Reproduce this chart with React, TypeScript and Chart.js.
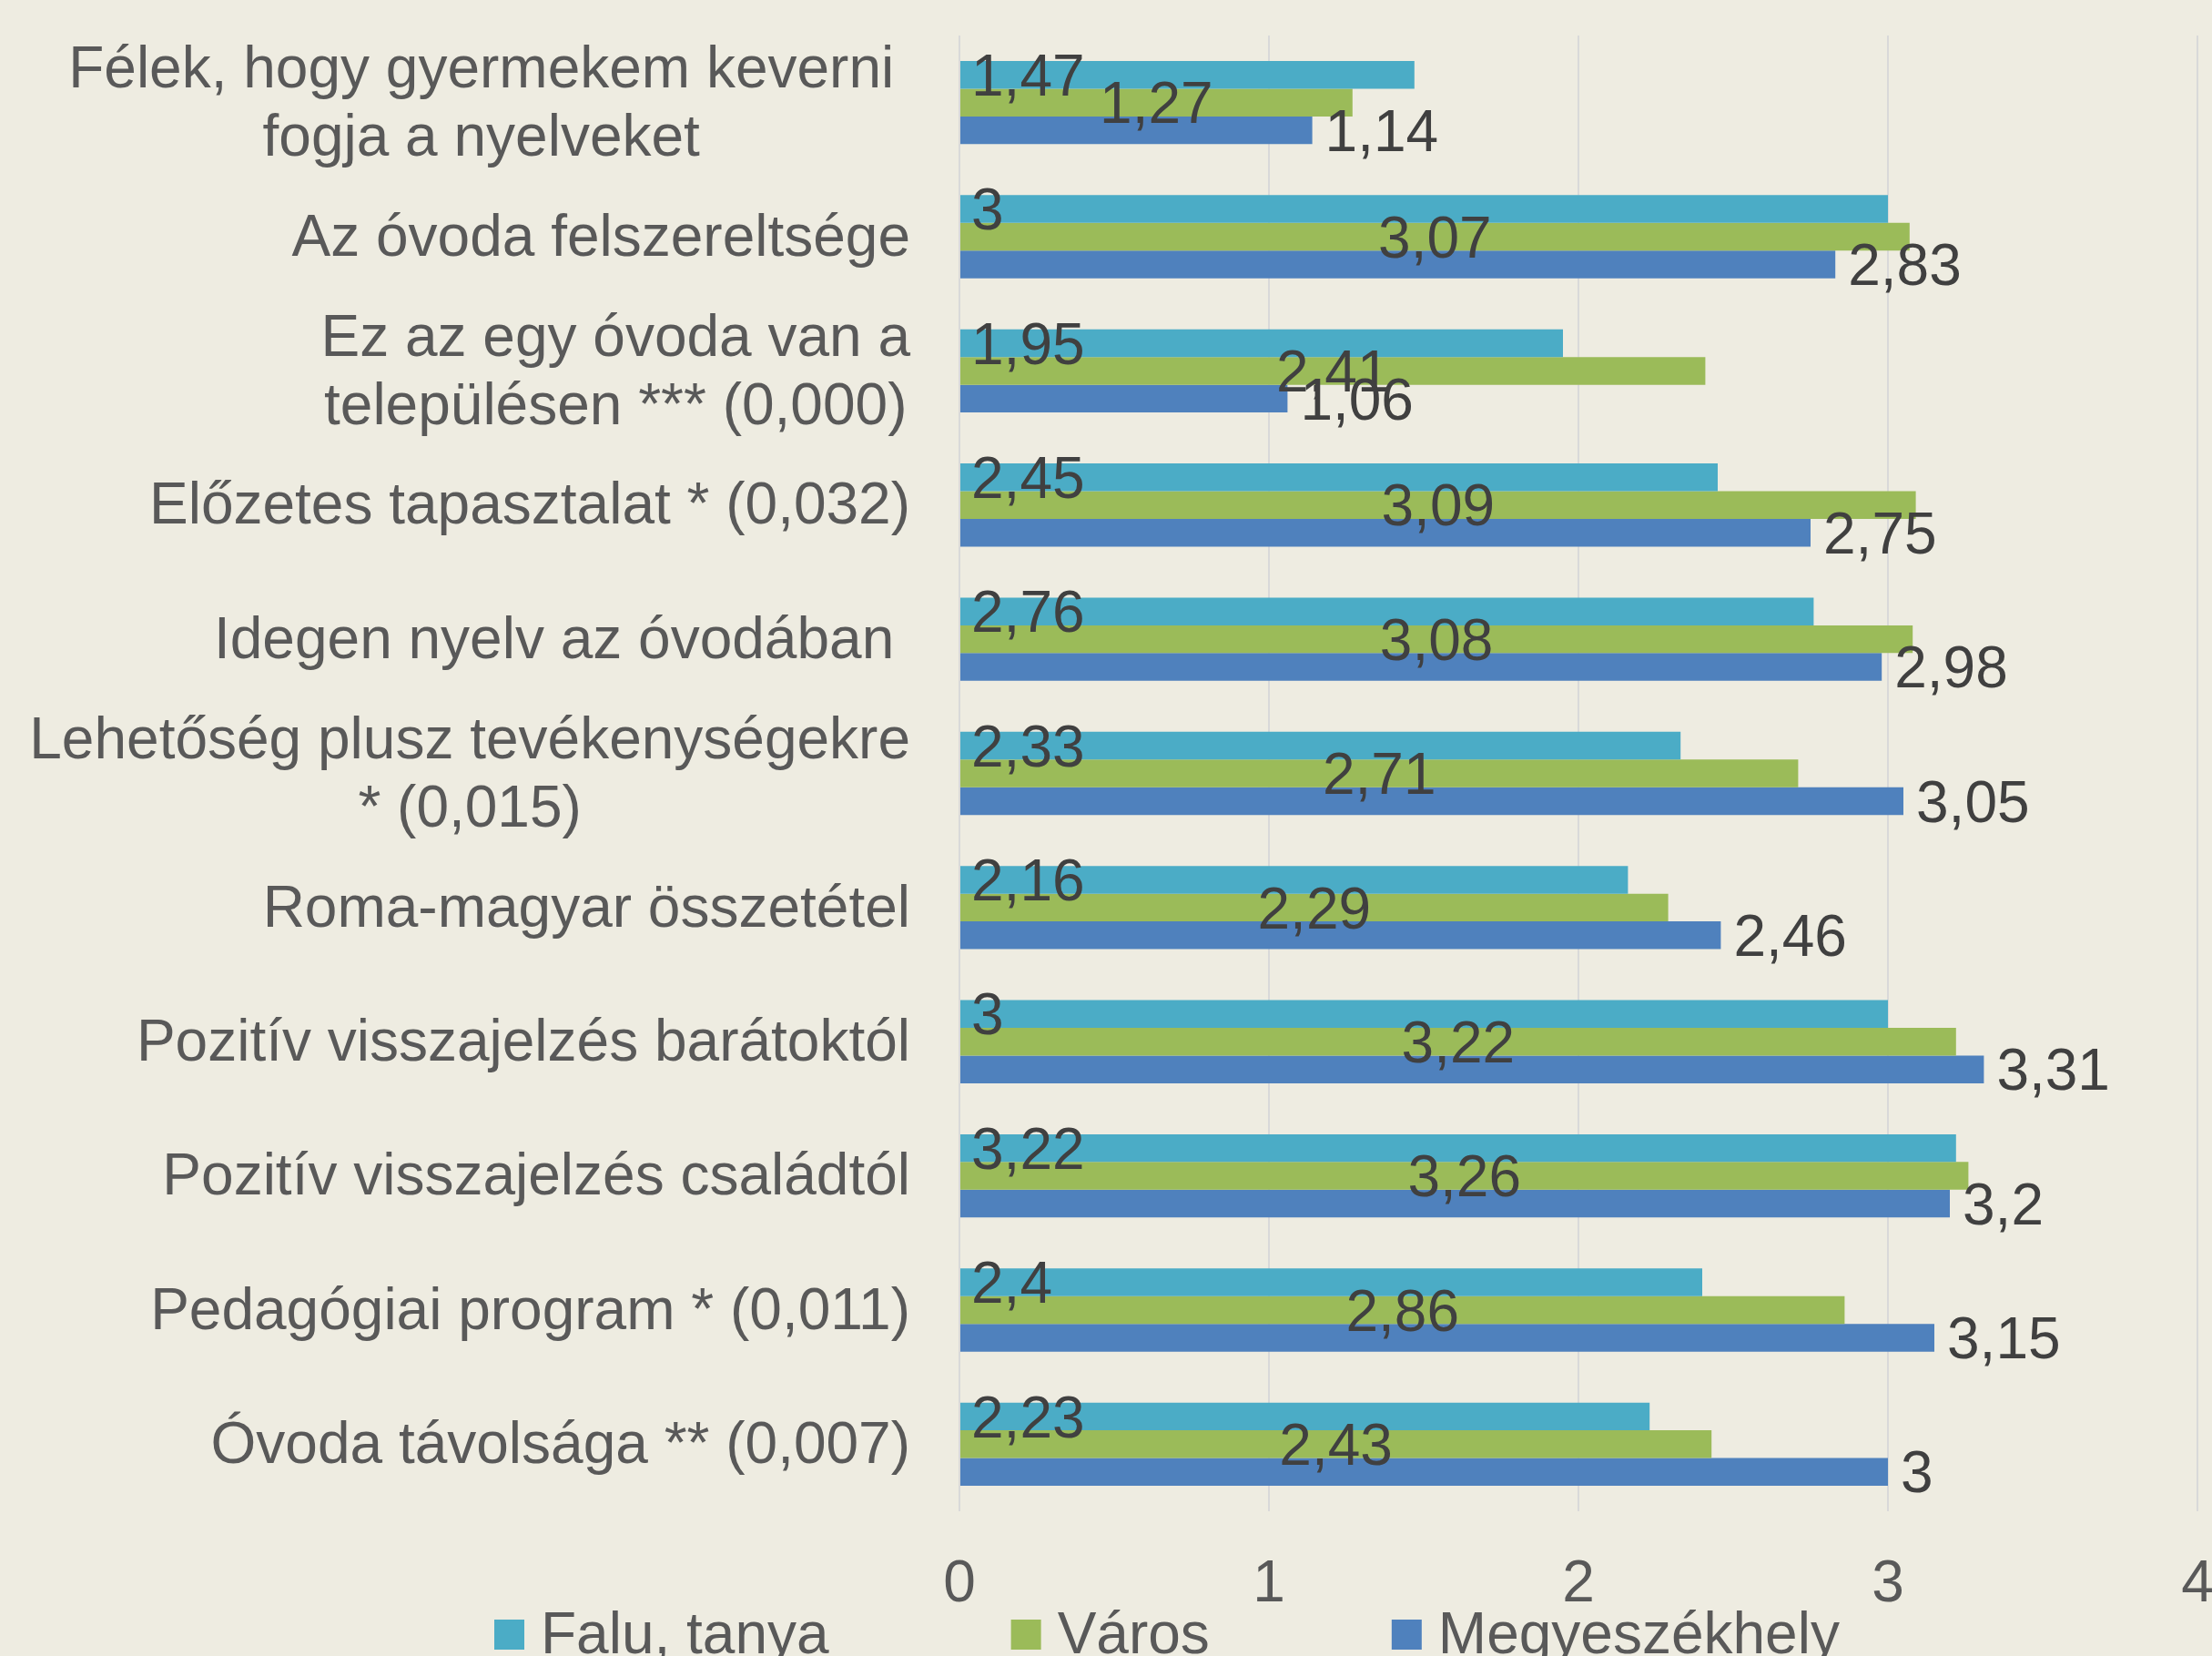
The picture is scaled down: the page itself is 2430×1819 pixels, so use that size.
import React, { useEffect, useRef } from "react";
import { Chart, registerables } from "chart.js";

Chart.register(...registerables);

const FONT = '"Liberation Sans", Arial, Helvetica, sans-serif';

const categories: string[][] = [
  ["Félek, hogy gyermekem keverni ", "fogja a nyelveket"],
  ["Az óvoda felszereltsége"],
  ["Ez az egy óvoda van a", "településen *** (0,000)"],
  ["Előzetes tapasztalat * (0,032)"],
  ["Idegen nyelv az óvodában "],
  ["Lehetőség plusz tevékenységekre", "* (0,015)"],
  ["Roma-magyar összetétel"],
  ["Pozitív visszajelzés barátoktól"],
  ["Pozitív visszajelzés családtól"],
  ["Pedagógiai program * (0,011)"],
  ["Óvoda távolsága ** (0,007)"],
];

const seriesNames = ["Falu, tanya", "Város", "Megyeszékhely"];
const faluTanya = [1.47, 3, 1.95, 2.45, 2.76, 2.33, 2.16, 3, 3.22, 2.4, 2.23];
const varos = [1.27, 3.07, 2.41, 3.09, 3.08, 2.71, 2.29, 3.22, 3.26, 2.86, 2.43];
const megyeszekhely = [1.14, 2.83, 1.06, 2.75, 2.98, 3.05, 2.46, 3.31, 3.2, 3.15, 3];
const seriesColors = ["#4BACC6", "#9BBB59", "#4F81BD"];
const xTickLabels = ["0", "1", "2", "3", "4"];

const fmt = (v: number) => String(v).replace(".", ",");

const customPlugin = {
  id: "customDraw",
  beforeDraw(chart: any) {
    const ctx = chart.ctx;
    ctx.save();
    ctx.fillStyle = "#EEECE1";
    ctx.fillRect(0, 0, chart.width, chart.height);
    ctx.restore();
  },
  afterDatasetsDraw(chart: any) {
    const ctx = chart.ctx;
    const yScale = chart.scales.y;
    ctx.save();
    ctx.font = `64px ${FONT}`;
    ctx.textBaseline = "middle";

    // category labels
    ctx.fillStyle = "#595959";
    ctx.textAlign = "center";
    const right = chart.chartArea.left - 54;
    const lh = 75;
    categories.forEach((lines, i) => {
      const yc = yScale.getPixelForValue(i);
      let W = 0;
      let Wt = 0;
      lines.forEach((l) => {
        const w = ctx.measureText(l).width;
        if (w > W) {
          W = w;
          Wt = ctx.measureText(l.trimEnd()).width;
        }
      });
      const cx = right - W + Wt / 2;
      lines.forEach((l, j) => {
        ctx.fillText(l.trimEnd(), cx, yc + 3 + (j - (lines.length - 1) / 2) * lh);
      });
    });

    // data labels
    ctx.fillStyle = "#404040";
    chart.data.datasets.forEach((ds: any, di: number) => {
      const meta = chart.getDatasetMeta(di);
      meta.data.forEach((bar: any, i: number) => {
        const txt = fmt(ds.data[i]);
        const { x, y, base } = bar.getProps(["x", "y", "base"], true);
        if (di === 0) {
          ctx.textAlign = "left";
          ctx.fillText(txt, base + 12, y + 5);
        } else if (di === 1) {
          ctx.textAlign = "center";
          ctx.fillText(txt, (x + base) / 2, y + 5);
        } else {
          ctx.textAlign = "left";
          ctx.fillText(txt, x + 14, y + 5);
        }
      });
    });
    ctx.restore();
  },
  afterDraw(chart: any) {
    const ctx = chart.ctx;
    ctx.save();
    ctx.font = `64px ${FONT}`;
    ctx.textBaseline = "alphabetic";
    ctx.textAlign = "left";
    let x = 543;
    const boxTop = 1779;
    const box = 33;
    chart.data.datasets.forEach((ds: any) => {
      ctx.fillStyle = ds.backgroundColor;
      ctx.fillRect(x, boxTop, box, box);
      ctx.fillStyle = "#595959";
      const tx = x + box + 18;
      ctx.fillText(ds.label, tx, 1816);
      x = tx + ctx.measureText(ds.label).width + 200;
    });
    ctx.restore();
  },
};

export default function App() {
  const ref = useRef<HTMLCanvasElement | null>(null);
  useEffect(() => {
    document.body.style.margin = "0";
    document.body.style.overflow = "hidden";
    const canvas = ref.current;
    if (!canvas) return;
    const chart = new Chart(canvas, {
      type: "bar",
      data: {
        labels: categories.map((l) => l.join(" ").trim()),
        datasets: [faluTanya, varos, megyeszekhely].map((d, i) => ({
          label: seriesNames[i],
          data: d,
          backgroundColor: seriesColors[i],
          borderWidth: 0,
          categoryPercentage: 0.62,
          barPercentage: 1,
        })),
      },
      options: {
        indexAxis: "y",
        responsive: false,
        animation: false,
        devicePixelRatio: 1,
        layout: { padding: { left: 1054, right: 16, top: 39, bottom: 0 } },
        plugins: { legend: { display: false }, tooltip: { enabled: false } },
        scales: {
          x: {
            min: 0,
            max: 4,
            ticks: {
              stepSize: 1,
              color: "#595959",
              font: { size: 64, family: FONT },
              padding: 43,
              callback: (v: any) => xTickLabels[Number(v)] ?? String(v),
            },
            grid: { color: "#D9D9D9", lineWidth: 2, drawTicks: false },
            border: { display: false },
            afterFit: (s: any) => {
              s.height = 159;
              s.paddingLeft = 0;
              s.paddingRight = 0;
            },
          },
          y: {
            display: false,
          },
        },
      },
      plugins: [customPlugin],
    } as any);
    return () => chart.destroy();
  }, []);
  return (
    <div style={{ width: 2430, height: 1819, overflow: "hidden" }}>
      <canvas ref={ref} width={2430} height={1819} style={{ display: "block", width: 2430, height: 1819 }} />
    </div>
  );
}
